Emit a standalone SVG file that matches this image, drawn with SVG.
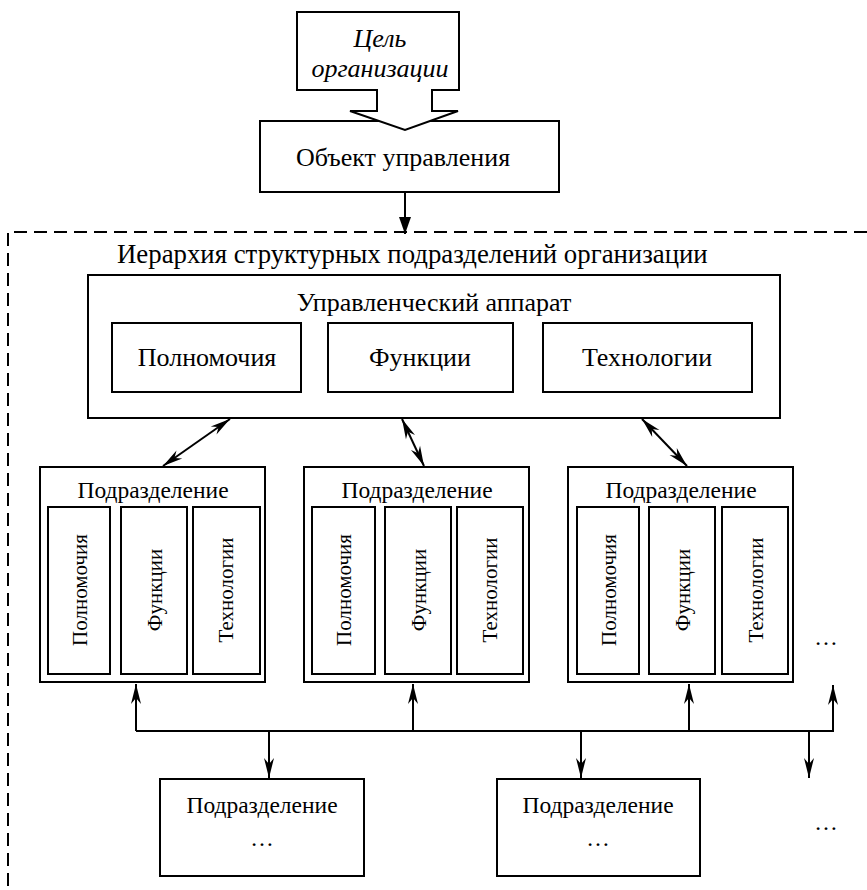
<svg xmlns="http://www.w3.org/2000/svg" width="867" height="890" viewBox="0 0 867 890">
<style>
.b{fill:#fff;stroke:#000;stroke-width:2}
.t{font-family:"Liberation Serif","Times New Roman",serif;font-size:26px;fill:#000;text-anchor:middle}
.s{font-size:23.5px}
.v{font-size:21px}
.i{font-style:italic}
.c{fill:none;stroke:#000;stroke-width:2}
.d{fill:none;stroke:#000;stroke-width:2;stroke-dasharray:13,7}
</style>
<defs>
<marker id="ah" markerUnits="userSpaceOnUse" viewBox="-21 -6 22 12" refX="0" refY="0" markerWidth="22" markerHeight="12" orient="auto-start-reverse">
<path d="M0,0 L-20,-5 L-14,0 L-20,5 z" fill="#000"/>
</marker>
<marker id="ah2" markerUnits="userSpaceOnUse" viewBox="-18 -6 19 12" refX="0" refY="0" markerWidth="19" markerHeight="12" orient="auto">
<path d="M0,0 L-17,-6 L-17,6 z" fill="#000"/>
</marker>
</defs>
<rect width="867" height="890" fill="#fff"/>
<g id="frame">
<path class="d" d="M867,232 H8 V890"/>
<text class="t" x="117" y="263" style="text-anchor:start;font-size:26.8px">Иерархия структурных подразделений организации</text>
</g>
<g id="obj">
<rect class="b" x="260" y="121" width="299" height="71"/>
<text class="t" x="403" y="166">Объект управления</text>
</g>
<g id="goal">
<path class="b" d="M297,12 H459 V90 H432 V111 H458 L405,130 L350,111 H377 V90 H297 Z"/>
<text class="t i" x="380" y="47">Цель</text>
<text class="t i" x="380" y="77">организации</text>
</g>
<g id="apparat">
<rect class="b" x="88" y="275" width="692" height="143"/>
<text class="t" x="434" y="311">Управленческий аппарат</text>
<rect class="b" x="112" y="323" width="189" height="69"/>
<text class="t" x="207" y="366">Полномочия</text>
<rect class="b" x="328" y="323" width="185" height="69"/>
<text class="t" x="420" y="366">Функции</text>
<rect class="b" x="543" y="323" width="209" height="69"/>
<text class="t" x="647" y="366">Технологии</text>
</g>
<g id="sub1">
<rect class="b" x="40" y="467" width="225" height="215"/>
<text class="t s" x="153" y="498">Подразделение</text>
<rect class="b" x="48" y="507" width="62" height="167"/>
<rect class="b" x="121" y="507" width="66" height="167"/>
<rect class="b" x="193" y="507" width="67" height="167"/>
<text class="t v" transform="translate(87,590) rotate(-90)">Полномочия</text>
<text class="t v" transform="translate(162,590) rotate(-90)">Функции</text>
<text class="t v" transform="translate(233,590) rotate(-90)">Технологии</text>
</g>
<g id="sub2">
<rect class="b" x="304" y="467" width="225" height="215"/>
<text class="t s" x="417" y="498">Подразделение</text>
<rect class="b" x="312" y="507" width="63" height="167"/>
<rect class="b" x="385" y="507" width="66" height="167"/>
<rect class="b" x="457" y="507" width="66" height="167"/>
<text class="t v" transform="translate(351,590) rotate(-90)">Полномочия</text>
<text class="t v" transform="translate(426,590) rotate(-90)">Функции</text>
<text class="t v" transform="translate(497,590) rotate(-90)">Технологии</text>
</g>
<g id="sub3">
<rect class="b" x="568" y="467" width="225" height="215"/>
<text class="t s" x="681" y="498">Подразделение</text>
<rect class="b" x="577" y="507" width="62" height="167"/>
<rect class="b" x="649" y="507" width="66" height="167"/>
<rect class="b" x="722" y="507" width="66" height="167"/>
<text class="t v" transform="translate(616,590) rotate(-90)">Полномочия</text>
<text class="t v" transform="translate(690,590) rotate(-90)">Функции</text>
<text class="t v" transform="translate(763,590) rotate(-90)">Технологии</text>
</g>
<g id="dots-right">
<text class="t s" x="826" y="645">…</text>
<text class="t s" x="826" y="830">…</text>
</g>
<g id="bot1">
<rect class="b" x="160" y="779" width="204" height="97"/>
<text class="t s" x="262" y="813">Подразделение</text>
<text class="t s" x="262" y="846">…</text>
</g>
<g id="bot2">
<rect class="b" x="497" y="779" width="203" height="97"/>
<text class="t s" x="598" y="813">Подразделение</text>
<text class="t s" x="598" y="846">…</text>
</g>
<g id="connectors">
<line class="c" x1="405" y1="192" x2="405" y2="234" marker-end="url(#ah2)"/>
<line class="c" x1="230" y1="419" x2="163" y2="466" marker-start="url(#ah)" marker-end="url(#ah)"/>
<line class="c" x1="402" y1="419" x2="424" y2="466" marker-start="url(#ah)" marker-end="url(#ah)"/>
<line class="c" x1="642" y1="419" x2="687" y2="466" marker-start="url(#ah)" marker-end="url(#ah)"/>
<path class="c" d="M136,731 H833"/>
<line class="c" x1="136" y1="731" x2="136" y2="684" marker-end="url(#ah)"/>
<line class="c" x1="413" y1="731" x2="413" y2="684" marker-end="url(#ah)"/>
<line class="c" x1="689" y1="731" x2="689" y2="684" marker-end="url(#ah)"/>
<line class="c" x1="833" y1="732" x2="833" y2="685" marker-end="url(#ah)"/>
<line class="c" x1="269" y1="731" x2="269" y2="778" marker-end="url(#ah)"/>
<line class="c" x1="581" y1="731" x2="581" y2="778" marker-end="url(#ah)"/>
<line class="c" x1="809" y1="731" x2="809" y2="778" marker-end="url(#ah)"/>
</g>
</svg>
